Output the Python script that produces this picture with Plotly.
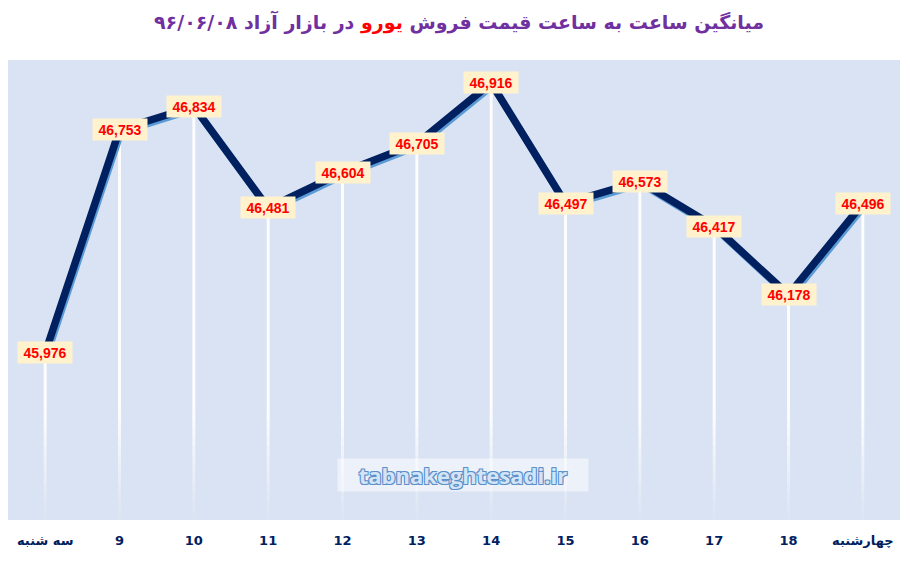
import plotly.graph_objects as go

# داده‌ها
hours = ["سه شنبه", "9", "10", "11", "12", "13", "14", "15", "16", "17", "18", "چهارشنبه"]
prices = [45976, 46753, 46834, 46481, 46604, 46705, 46916, 46497, 46573, 46417, 46178, 46496]

Y_MIN, Y_MAX = 45394, 46996
NAVY = "#002060"
BG = "#dae3f3"

x = list(range(len(hours)))
fig = go.Figure()

# خطوط عمودی سفید با محو شدن به سمت پایین
n_fade = 12
fade_top = Y_MIN + 380
step = (fade_top - Y_MIN) / n_fade
for k in range(n_fade):
    lo = Y_MIN + k * step
    hi = lo + step
    fig.add_trace(go.Bar(
        x=x, y=[max(min(v, hi) - lo, 0) for v in prices], base=lo,
        width=0.04, marker=dict(color="white", line=dict(width=0)),
        opacity=(k + 1) / (n_fade + 1), hoverinfo="skip", showlegend=False))
fig.add_trace(go.Bar(
    x=x, y=[v - fade_top for v in prices], base=fade_top,
    width=0.04, marker=dict(color="white", line=dict(width=0)),
    opacity=0.95, hoverinfo="skip", showlegend=False))

# سایه خط
fig.add_trace(go.Scatter(
    x=x, y=prices, mode="lines", xaxis="x2", yaxis="y2",
    line=dict(color="#5b9bd5", width=7), hoverinfo="skip", showlegend=False))

# خط اصلی (روی محور سوم تا بالای سایه رسم شود)
fig.add_trace(go.Scatter(
    x=x, y=prices, mode="lines", xaxis="x3", yaxis="y3",
    line=dict(color=NAVY, width=7.5), showlegend=False))

for xi, v in zip(x, prices):
    fig.add_annotation(
        x=xi, y=v, text=f"{v:,}", showarrow=False,
        font=dict(family="Liberation Sans, Arial", size=14, color="#ff0000", weight="bold"),
        bgcolor="#fff2cc", width=52, height=19, borderpad=1)

fig.add_annotation(
    xref="paper", yref="paper", x=0.51, y=0.098, yanchor="middle",
    text="tabnakeghtesadi.ir", showarrow=False,
    font=dict(family="Open Sans", size=22, color="#d2e4f5", weight="bold",
              shadow="1px 1px 0 #5b8fc9, -1px -1px 0 #5b8fc9, 1px -1px 0 #5b8fc9, -1px 1px 0 #5b8fc9"),
    bgcolor="rgba(255,255,255,0.5)", width=248, height=30)

dx = 1.5 / 74.3
dy = 2.5 * (Y_MAX - Y_MIN) / 460

fig.update_layout(
    width=902, height=555,
    margin=dict(l=0, r=10, t=52, b=43),
    paper_bgcolor="white", plot_bgcolor=BG,
    barmode="overlay",
    title=dict(
        text="\u202bمیانگین ساعت به ساعت قیمت فروش <span style='color:#ff0000'>یورو</span> در بازار آزاد ۹۶/۰۶/۰۸\u202c",
        x=0.5, xanchor="center", y=0.975, yanchor="middle",
        font=dict(family="DejaVu Sans", size=19, color="#7030a0", weight="bold")),
    xaxis=dict(range=[-0.5, 11.5], tickvals=x, ticktext=hours,
               showgrid=False, zeroline=False,
               ticks="outside", ticklen=8, tickcolor="rgba(0,0,0,0)",
               tickfont=dict(family="DejaVu Sans", size=13, color=NAVY, weight="bold")),
    yaxis=dict(range=[Y_MIN, Y_MAX], showgrid=False, zeroline=False,
               showticklabels=False),
    xaxis2=dict(range=[-0.5 - dx, 11.5 - dx], overlaying="x", visible=False),
    yaxis2=dict(range=[Y_MIN + dy, Y_MAX + dy], overlaying="y", visible=False),
    xaxis3=dict(range=[-0.5, 11.5], overlaying="x", visible=False),
    yaxis3=dict(range=[Y_MIN, Y_MAX], overlaying="y", visible=False),
)

fig.write_html("out.html")
